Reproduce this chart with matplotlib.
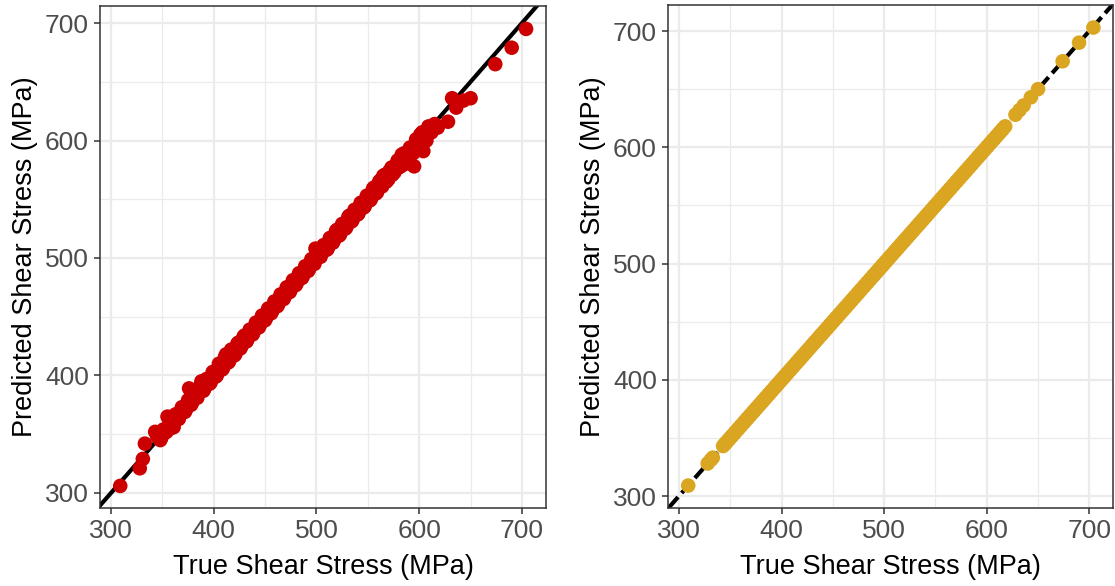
import matplotlib
matplotlib.use("Agg")
import matplotlib.pyplot as plt
from matplotlib.ticker import MultipleLocator

plt.rcParams['font.family'] = ['Liberation Sans', 'DejaVu Sans']

# True shear stress (MPa), shared by both panels
true_stress = [309, 328, 331, 333,
               343, 346, 349, 352, 355, 358, 361, 364, 367, 370, 373, 376, 379, 382, 385, 388,
               391, 394, 397, 400, 403, 406, 409, 412, 415, 418, 421, 424, 427, 430, 433, 436,
               439, 442, 445, 448, 451, 454, 457, 460, 463, 466, 469, 472, 475, 478, 481, 484,
               487, 490, 493, 496, 499, 502, 505, 508, 511, 514, 517, 520, 523, 526, 529, 532,
               535, 538, 541, 544, 547, 550, 553, 556, 559, 562, 565, 568, 571, 574, 577, 580,
               583, 586, 589, 592, 595, 598, 601, 604, 607, 610, 613, 616, 618,
               628, 632, 636, 643, 650, 674, 690, 704,
               345, 348, 351, 354, 357, 360, 363, 366, 369, 372, 375, 378, 381, 384, 387, 390,
               393, 396, 399, 402, 405, 408, 411, 414, 417, 420, 423, 426, 429, 432, 435, 438,
               441, 444, 447, 450, 453, 456, 459, 462, 465, 468, 471, 474, 477, 480, 483, 486,
               489, 492, 495, 498, 501, 504, 507, 510, 513, 516, 519, 522, 525, 528, 531, 534,
               537, 540, 543, 546, 549, 552, 555, 558, 561, 564, 567, 570, 573, 576, 579, 582,
               585, 588, 591, 594, 597, 600, 603, 606, 609, 612, 615]

# Predicted shear stress, left model (red)
pred_left = [306, 321, 329, 342,
             352, 349, 347, 351, 365, 355, 356, 363, 366, 372, 371, 389, 377, 381, 386, 395,
             389, 395, 394, 402, 400, 409, 406, 418, 412, 420, 418, 428, 425, 434, 431, 438,
             437, 444, 443, 450, 449, 456, 455, 462, 461, 468, 467, 475, 473, 481, 479, 486,
             485, 492, 491, 497, 508, 507, 504, 510, 508, 517, 515, 524, 520, 529, 526, 536,
             532, 541, 538, 547, 544, 553, 550, 560, 556, 566, 570, 565, 574, 571, 579, 577,
             588, 580, 587, 589, 578, 596, 605, 591, 600, 608, 611, 612, 611,
             616, 636, 628, 634, 636, 665, 679, 695,
             348, 345, 354, 352, 360, 358, 367, 363, 373, 369, 379, 375, 385, 381, 391, 387,
             397, 393, 403, 399, 410, 405, 416, 411, 422, 417, 427, 423, 433, 429, 439, 435,
             445, 441, 451, 447, 457, 453, 463, 459, 469, 465, 475, 471, 481, 477, 487, 483,
             493, 489, 499, 495, 505, 501, 511, 507, 517, 513, 523, 519, 529, 525, 535, 531,
             541, 537, 547, 543, 553, 549, 559, 555, 565, 561, 571, 567, 577, 573, 583, 578,
             589, 584, 594, 589, 601, 594, 607, 600, 612, 607, 614]

# Predicted shear stress, right model (gold)
pred_right = [309, 328, 331, 333,
              343, 346, 349, 352, 355, 358, 361, 364, 367, 370, 373, 376, 379, 382, 385, 388,
              391, 394, 397, 400, 403, 406, 409, 412, 415, 418, 421, 424, 427, 430, 433, 436,
              439, 442, 445, 448, 451, 454, 457, 460, 463, 466, 469, 472, 475, 478, 481, 484,
              487, 490, 493, 496, 499, 502, 505, 508, 511, 514, 517, 520, 523, 526, 529, 532,
              535, 538, 541, 544, 547, 550, 553, 556, 559, 562, 565, 568, 571, 574, 577, 580,
              583, 586, 589, 592, 595, 598, 601, 604, 607, 610, 613, 616, 618,
              628, 632, 636, 643, 650, 674, 690, 703,
              345, 348, 351, 354, 357, 360, 363, 366, 369, 372, 375, 378, 381, 384, 387, 390,
              393, 396, 399, 402, 405, 408, 411, 414, 417, 420, 423, 426, 429, 432, 435, 438,
              441, 444, 447, 450, 453, 456, 459, 462, 465, 468, 471, 474, 477, 480, 483, 486,
              489, 492, 495, 498, 501, 504, 507, 510, 513, 516, 519, 522, 525, 528, 531, 534,
              537, 540, 543, 546, 549, 552, 555, 558, 561, 564, 567, 570, 573, 576, 579, 582,
              585, 588, 591, 594, 597, 600, 603, 606, 609, 612, 615]

ticks = [300, 400, 500, 600, 700]
xlabel = "True Shear Stress (MPa)"
ylabel = "Predicted Shear Stress (MPa)"

fig = plt.figure(figsize=(11.15, 5.86), dpi=100)
ax1 = fig.add_axes([100/1115, 78/586, 446/1115, 502/586])
ax2 = fig.add_axes([668/1115, 78/586, 445/1115, 503/586])


def style(ax, xlim, ylim):
    ax.set_xlim(*xlim)
    ax.set_ylim(*ylim)
    ax.set_xticks(ticks)
    ax.set_yticks(ticks)
    ax.xaxis.set_minor_locator(MultipleLocator(50))
    ax.yaxis.set_minor_locator(MultipleLocator(50))
    ax.grid(True, which='major', color='#EBEBEB', linewidth=1.6, zorder=0)
    ax.grid(True, which='minor', color='#EBEBEB', linewidth=0.9, zorder=0)
    ax.set_axisbelow(True)
    for s in ax.spines.values():
        s.set_color('#333333')
        s.set_linewidth(1.1)
    ax.tick_params(which='major', length=4, width=1.1, color='#333333',
                   labelsize=19, labelcolor='#4D4D4D', pad=4)
    ax.tick_params(which='minor', length=0)
    ax.set_xlabel(xlabel, fontsize=19.5, color='black', labelpad=8)
    ax.set_ylabel(ylabel, fontsize=19.5, color='black', labelpad=5)


style(ax1, (289.3, 723.4), (287.2, 714.5))
style(ax2, (289.3, 723.1), (289.7, 722.4))

ax1.axline((0, 0), slope=1, color='black', linewidth=3, zorder=2)
ax1.scatter(true_stress, pred_left, s=110, color='#CC0000', edgecolors='none', zorder=3)

ax2.axline((0, 0), slope=1, color='black', linewidth=3, dashes=(3.5, 1.3), zorder=2)
ax2.scatter(true_stress, pred_right, s=110, color='#DAA520', edgecolors='none', zorder=3)

fig.savefig("out.png", dpi=100)
